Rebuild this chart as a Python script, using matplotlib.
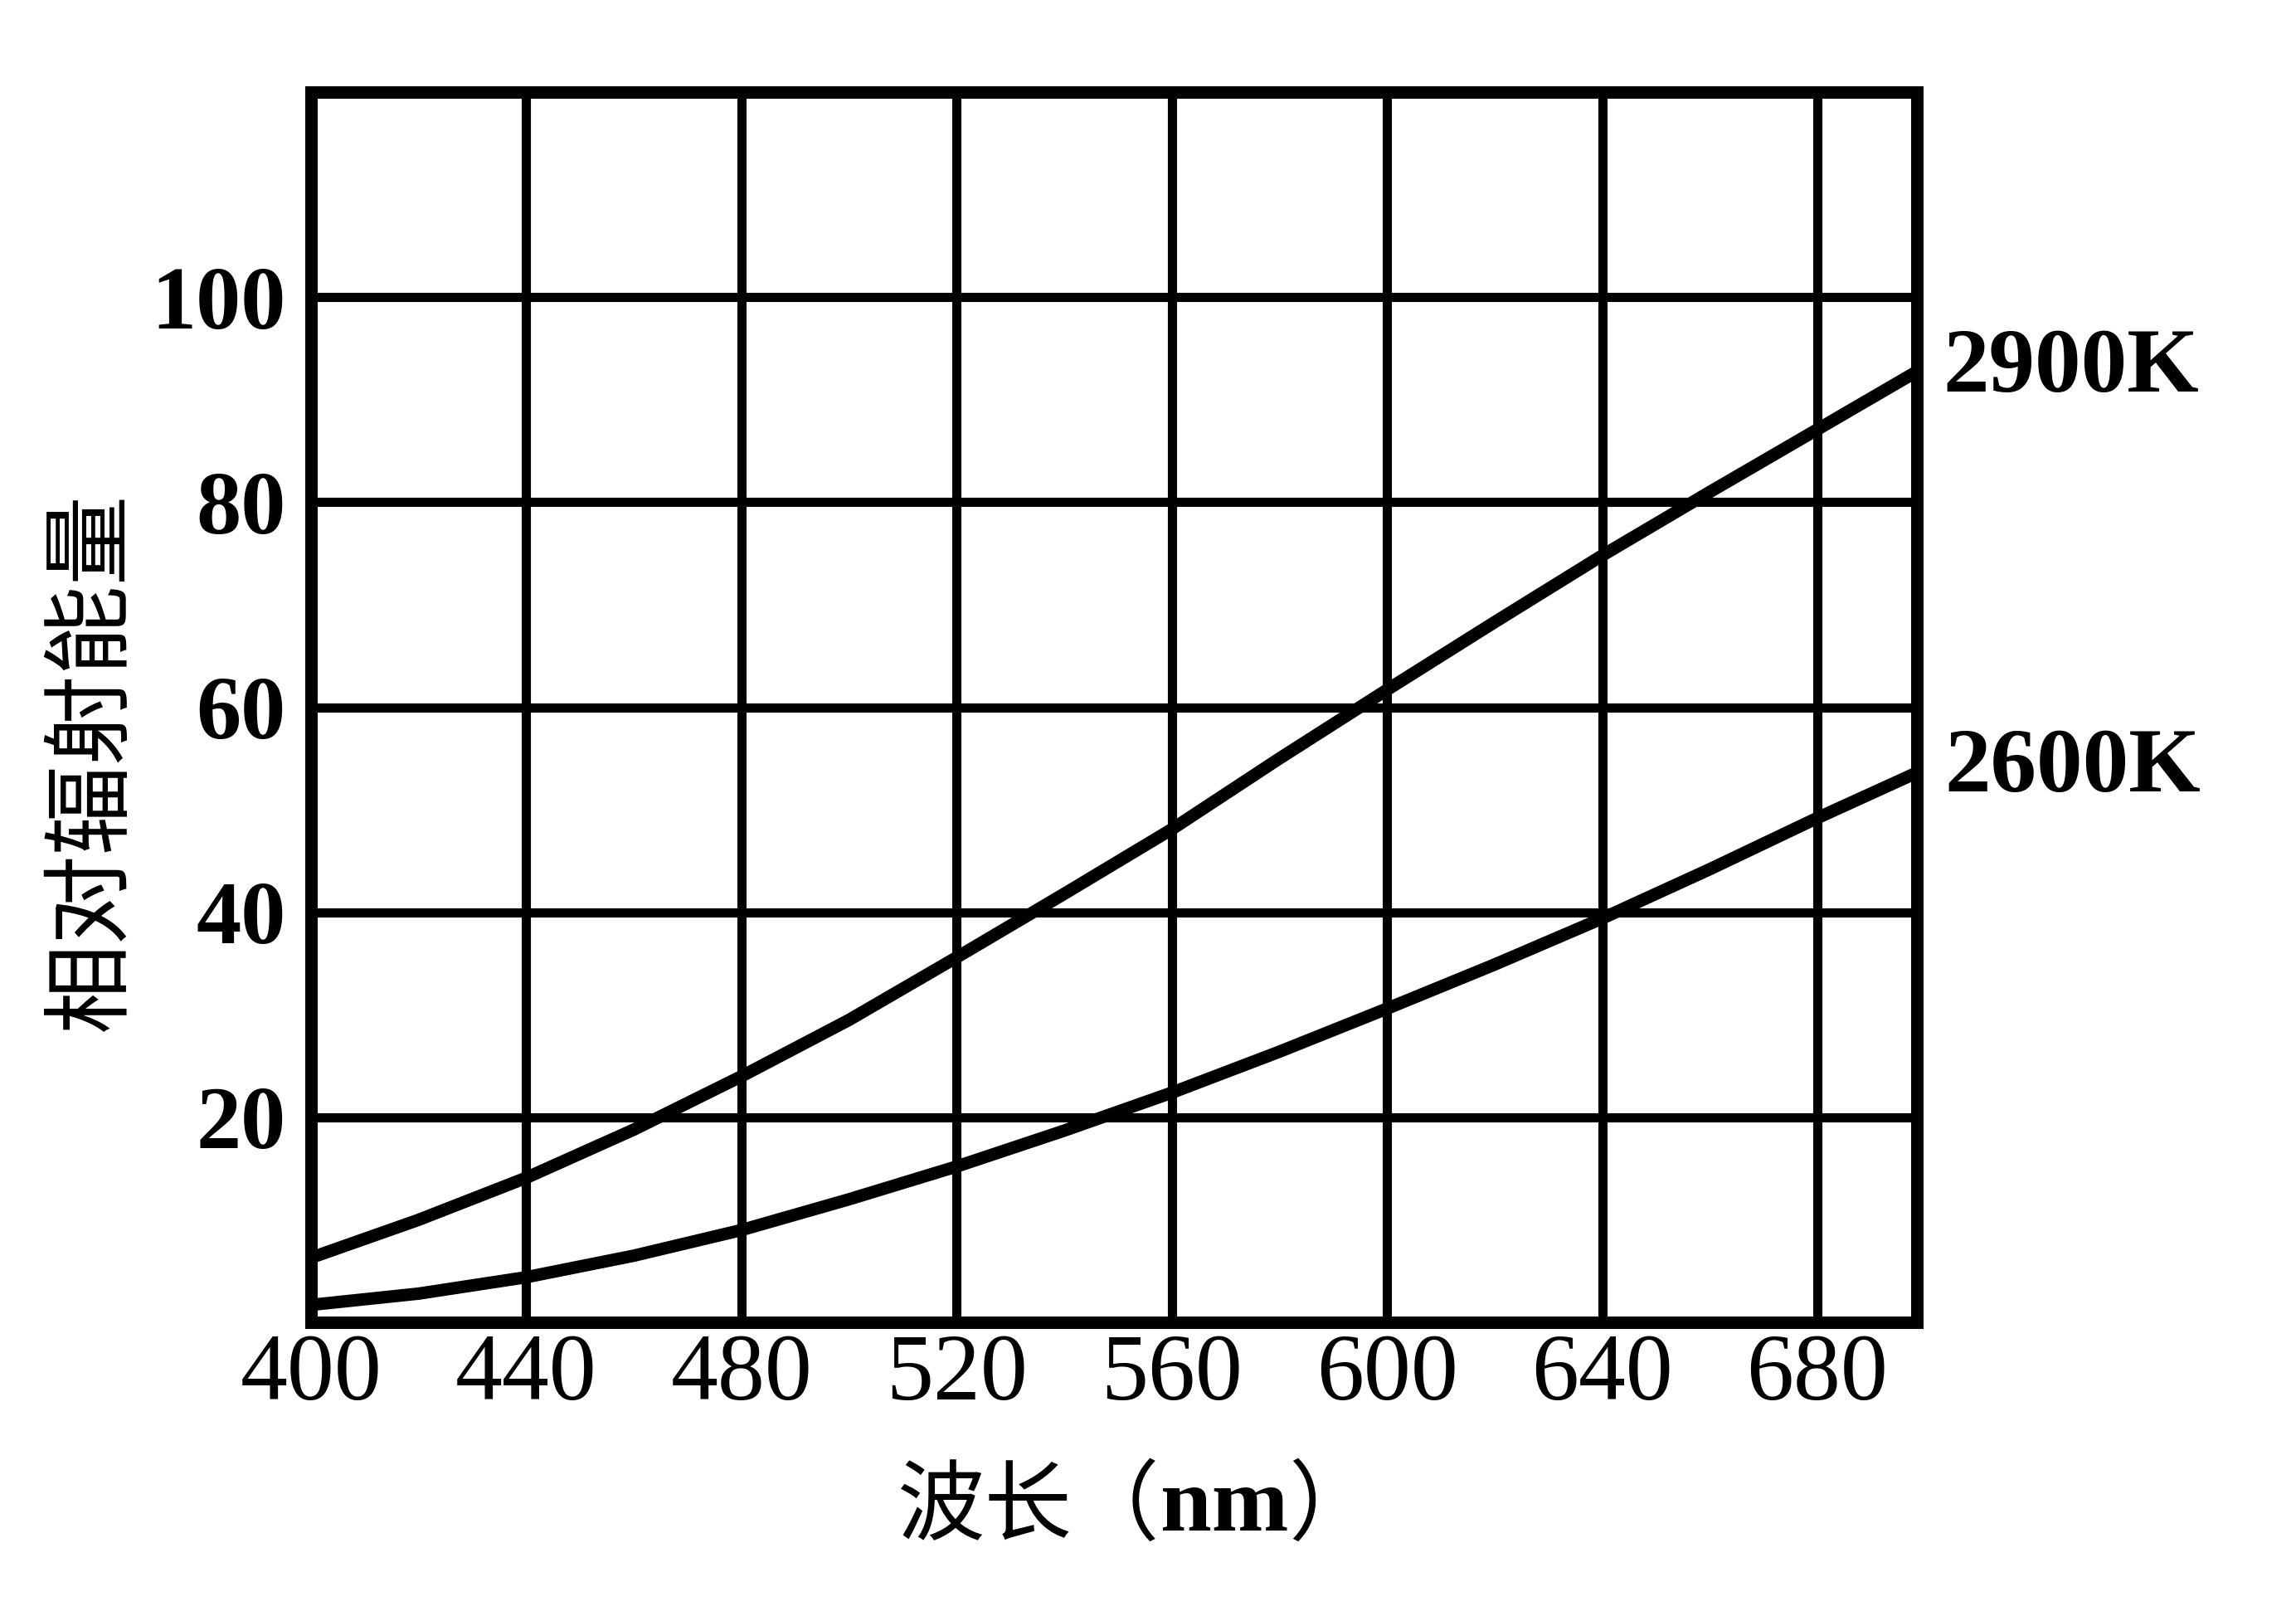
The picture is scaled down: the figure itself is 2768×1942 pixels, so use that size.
import matplotlib
matplotlib.use("Agg")
import matplotlib.pyplot as plt

plt.rcParams["font.family"] = ["Liberation Serif", "Noto Sans CJK SC"]

# wavelength (nm) and relative radiant energy
wavelength = [400, 420, 440, 460, 480, 500, 520, 540, 560, 580, 600, 620, 640, 660, 680, 698]
energy_2900 = [6.3, 10.0, 14.1, 18.8, 24.0, 29.5, 35.6, 41.8, 48.1, 55.0, 61.7, 68.3, 74.8, 81.0, 87.1, 92.6]
energy_2600 = [1.7, 2.8, 4.4, 6.5, 9.0, 12.0, 15.2, 18.7, 22.4, 26.4, 30.6, 34.9, 39.4, 44.2, 49.2, 53.5]

x_ticks = [400, 440, 480, 520, 560, 600, 640, 680]
y_ticks = [20, 40, 60, 80, 100]

fig = plt.figure(figsize=(13.84, 9.71), dpi=200)
ax = fig.add_axes([0.1355, 0.1792, 0.8349 - 0.1355, 0.9428 - 0.1792])

ax.plot(wavelength, energy_2900, color="black", lw=5.4, solid_capstyle="butt")
ax.plot(wavelength, energy_2600, color="black", lw=5.4, solid_capstyle="butt")

ax.set_xlim(400, 698.5)
ax.set_ylim(0, 120)
ax.set_xticks(x_ticks)
ax.set_yticks(y_ticks)
ax.grid(True, color="black", lw=4)
ax.set_axisbelow(True)
for s in ax.spines.values():
    s.set_linewidth(5.4)
ax.tick_params(length=0)
ax.tick_params(axis="x", pad=5, labelsize=41)
ax.tick_params(axis="y", pad=11, labelsize=39)
for lab in ax.get_yticklabels():
    lab.set_fontweight("bold")

ax.text(1.016, 93, "2900K", transform=ax.get_yaxis_transform(), fontsize=40,
        fontweight="bold", va="center", ha="left")
ax.text(1.017, 54, "2600K", transform=ax.get_yaxis_transform(), fontsize=40,
        fontweight="bold", va="center", ha="left")

fig.text(111 / 2768, 1 - 918 / 1942, "相对辐射能量", rotation=90, fontsize=39,
         family=["Noto Sans CJK SC"], ha="center", va="center")

# x label: Chinese part regular, "nm" bold serif
nm = fig.text(1476 / 2768, 1 - 1818 / 1942, "nm", fontsize=40, fontweight="bold",
              ha="center", va="center")
ax.annotate("波长（", xy=(0, 0.5), xycoords=nm, ha="right", va="center",
            fontsize=38, family=["Noto Sans CJK SC"], annotation_clip=False)
ax.annotate("）", xy=(1, 0.5), xycoords=nm, ha="left", va="center",
            fontsize=38, family=["Noto Sans CJK SC"], annotation_clip=False)

fig.savefig("out.png", dpi=200)
